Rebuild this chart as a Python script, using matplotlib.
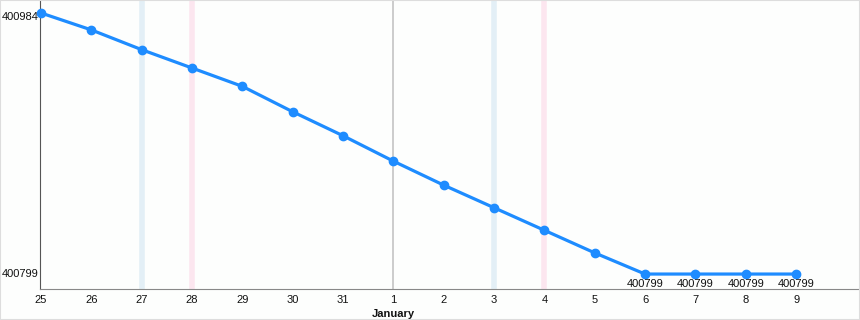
import matplotlib.pyplot as plt
from matplotlib.patches import Rectangle

# day labels along the x axis (Dec 25 .. Jan 9)
days = ["25", "26", "27", "28", "29", "30", "31", "1", "2", "3", "4", "5", "6", "7", "8", "9"]
values = [400984, 400972, 400958, 400945, 400932, 400914, 400897, 400879,
          400862, 400846, 400830, 400814, 400799, 400799, 400799, 400799]
saturdays = ["27", "3"]
sundays = ["28", "4"]
month_start = "1"
month_name = "January"
labelled_days = ["6", "7", "8", "9"]

plt.rcParams['font.family'] = ['Liberation Sans', 'DejaVu Sans']

fig = plt.figure(figsize=(8.6, 3.2), dpi=100)
fig.patch.set_facecolor("#fdfefd")
ax = fig.add_axes([40 / 860, 31 / 320, 820 / 860, 289 / 320])
ax.set_facecolor("#fdfefd")

x = list(range(len(days)))
ax.set_xlim(-0.02, 16.27)
ax.set_ylim(400788.4, 400993.2)

# weekend bands and month separator
for i, d in enumerate(days):
    if d in saturdays:
        ax.axvline(i, color="#e3eff6", lw=4, zorder=1)
    elif d in sundays:
        ax.axvline(i, color="#fce6ef", lw=4, zorder=1)
    if d == month_start:
        ax.axvline(i, color="#c8c8c8", lw=1.3, zorder=1)

ax.plot(x, values, color="#1e8cff", lw=2.3, marker="o", markersize=6, zorder=3, clip_on=False)

for i, d in enumerate(days):
    if d in labelled_days:
        ax.annotate(str(values[i]), (i, values[i]), xytext=(0, -7), textcoords="offset points",
                    ha="center", va="center", fontsize=8, color="#111111")

# y labels: only min and max
ymax, ymin = max(values), min(values)
ax.annotate(str(ymax), (0, ymax), xycoords=("axes fraction", "data"), xytext=(-1, -3),
            textcoords="offset points", ha="right", va="center", fontsize=8, color="#111111")
ax.annotate(str(ymin), (0, ymin), xycoords=("axes fraction", "data"), xytext=(-1, 0),
            textcoords="offset points", ha="right", va="center", fontsize=8, color="#111111")
ax.set_yticks([])

ax.set_xticks(x)
ax.set_xticklabels(days, fontsize=8, color="#111111")
ax.tick_params(axis="x", length=0, pad=4)
ax.text(x[days.index(month_start)], -0.07, month_name, transform=ax.get_xaxis_transform(),
        ha="center", va="top", fontsize=8, fontweight="bold", color="#111111")

for s in ["top", "right"]:
    ax.spines[s].set_visible(False)
ax.spines["left"].set_color("#555555")
ax.spines["left"].set_linewidth(0.8)
ax.spines["bottom"].set_color("#888888")
ax.spines["bottom"].set_linewidth(0.8)

fig.patches.append(Rectangle((0, 0), 1, 1, transform=fig.transFigure, fill=False,
                             edgecolor="#dddddd", lw=1.5))

fig.savefig("out.png", dpi=100, facecolor=fig.get_facecolor())
